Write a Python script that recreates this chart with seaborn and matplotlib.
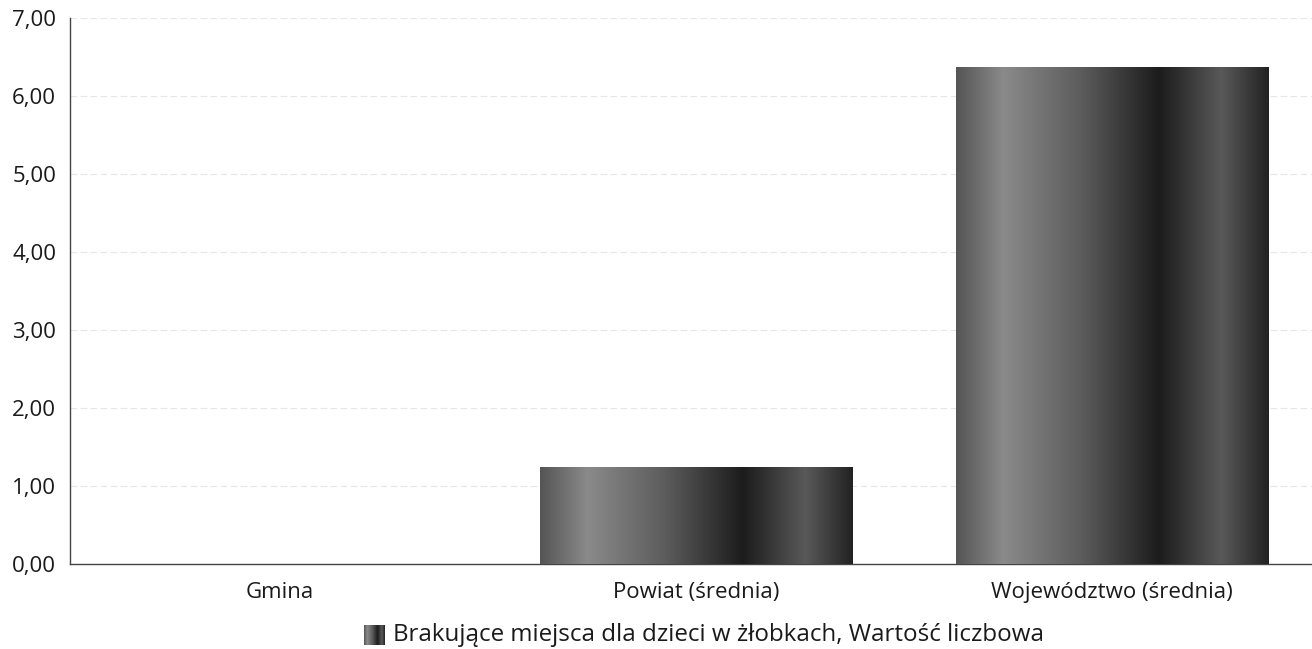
import numpy as np
import pandas as pd
import seaborn as sns
import matplotlib.pyplot as plt
from matplotlib.colors import LinearSegmentedColormap
from matplotlib.ticker import FuncFormatter

# data
categories = ["Gmina", "Powiat (średnia)", "Województwo (średnia)"]
values = [0.0, 1.24, 6.38]
series_name = "Brakujące miejsca dla dzieci w żłobkach, Wartość liczbowa"

df = pd.DataFrame({"kategoria": categories, "wartosc": values})

sns.set_style("white")
plt.rcParams["font.family"] = ["Open Sans", "DejaVu Sans"]

fig = plt.figure(figsize=(13.12, 6.49), dpi=100)
ax = fig.add_axes([0.0534, 0.131, 0.9466, 0.841])

sns.barplot(data=df, x="kategoria", y="wartosc", color="#444444", width=0.75, ax=ax)

# grey gradient running across each bar
shade = LinearSegmentedColormap.from_list(
    "shade",
    [(0.0, "#555555"), (0.15, "#8a8a8a"), (0.4, "#5c5c5c"),
     (0.65, "#1c1c1c"), (0.85, "#595959"), (1.0, "#222222")],
)
grad = np.linspace(0, 1, 256).reshape(1, -1)
for bar in ax.patches:
    h = bar.get_height()
    if h <= 0:
        continue
    x0 = bar.get_x()
    w = bar.get_width()
    im = ax.imshow(grad, cmap=shade, aspect="auto", extent=(x0, x0 + w, 0, h), zorder=3)
    im.set_clip_path(bar)
    bar.set_alpha(0)

ax.set_xlim(-0.505, 2.48)
ax.set_ylim(0, 7)
ax.set_yticks(range(0, 8))
ax.yaxis.set_major_formatter(FuncFormatter(lambda v, p: f"{v:.2f}".replace(".", ",")))
ax.grid(axis="y", color="#e6e6e6", linewidth=0.8, linestyle=(0, (6, 3)))
ax.set_axisbelow(True)

ax.set_xlabel("")
ax.set_ylabel("")
for s in ["top", "right"]:
    ax.spines[s].set_visible(False)
for s in ["left", "bottom"]:
    ax.spines[s].set_color("#444444")
    ax.spines[s].set_linewidth(1.0)
ax.tick_params(axis="y", labelsize=16, colors="#1a1a1a", length=0, pad=10)
ax.tick_params(axis="x", labelsize=16, colors="#1a1a1a", length=0, pad=13)

# legend: small gradient swatch + label
sw = fig.add_axes([364 / 1312, 1 - 645 / 649, 21 / 1312, 20 / 649])
sw.imshow(grad, cmap=shade, aspect="auto")
sw.axis("off")
fig.text(393 / 1312, 1 - 635 / 649, series_name, fontsize=17.4, color="#1a1a1a", va="center", ha="left")

fig.savefig("out.png", dpi=100)
